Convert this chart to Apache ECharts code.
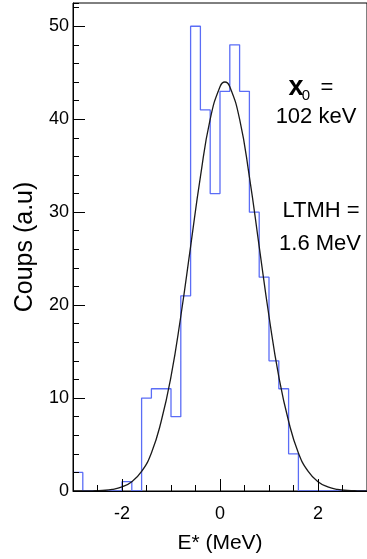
<!DOCTYPE html>
<html>
<head>
<meta charset="utf-8">
<script src="https://cdn.jsdelivr.net/npm/echarts@6/dist/echarts.min.js"></script>
<style>
    html, body { margin: 0; padding: 0; background: #fff; }
    #chart { width: 367px; height: 559px; }
</style>
</head>
<body>
<div id="chart"></div>
<script>
// histogram bins (MeV) and counts
const binEdges = [-3.0, -2.8, -2.6, -2.4, -2.2, -2.0, -1.8, -1.6, -1.4, -1.2, -1.0,
    -0.8, -0.6, -0.4, -0.2, 0.0, 0.2, 0.4, 0.6, 0.8, 1.0,
    1.2, 1.4, 1.6, 1.8, 2.0, 2.2, 2.4, 2.6, 2.8, 3.0]
const counts = [2, 0, 0, 0, 0, 1, 0, 10, 11, 11,
    8, 21, 50, 41, 32, 43, 48, 43, 30, 23,
    14, 11, 4, 0, 0, 0, 0, 0, 0, 0]

// fitted gaussian, points
const fitX = [-3.0, -2.8, -2.6, -2.4, -2.2, -2.0, -1.8, -1.6, -1.4, -1.2, -1.0,
    -0.8, -0.6, -0.4, -0.2, 0.0, 0.1, 0.2, 0.4, 0.6, 0.8, 1.0,
    1.2, 1.4, 1.6, 1.8, 2.0, 2.2, 2.4, 2.6, 2.8, 3.0]
const fitY = [0, 0.01, 0.02, 0.06, 0.17, 0.45, 1.0, 2.1, 4.1, 7.5, 12.3,
    18.8, 26.3, 33.8, 40.0, 43.5, 44.0, 43.5, 40.0, 33.8, 26.3, 18.8,
    12.3, 7.5, 4.1, 2.1, 1.0, 0.45, 0.17, 0.06, 0.02, 0.01]

const xLabels = [-2, 0, 2]
const yLabels = [0, 10, 20, 30, 40, 50]

const xTitle = 'E* (MeV)'
const yTitle = 'Coups (a.u)'
const notes = ['102 keV', 'LTMH =', '1.6 MeV']

const font = 'Liberation Sans'

const histData = binEdges.map((x, i) => [x, i < counts.length ? counts[i] : counts[counts.length - 1]])
const fitData = fitX.map((x, i) => [x, fitY[i]])

const chart = echarts.init(document.getElementById('chart'))

const noteText = (text, x, y, size) => ({
    type: 'text',
    x,
    y,
    style: {
        text,
        fill: '#000',
        font: `${ size }px "${ font }"`,
        textAlign: 'center',
        textVerticalAlign: 'middle'
    }
})

chart.setOption({
    animation: false,
    textStyle: { fontFamily: font },
    grid: {
        left: 73,
        right: -1,
        top: 3,
        bottom: 67,
        show: true,
        borderColor: '#000',
        borderWidth: 1
    },
    xAxis: [
        {
            type: 'value',
            min: -3,
            max: 3,
            interval: 0.5,
            position: 'bottom',
            z: 5,
            axisLine: { onZero: false, lineStyle: { color: '#000', width: 1 } },
            axisTick: { inside: true, length: 6, lineStyle: { color: '#000' } },
            axisLabel: {
                customValues: xLabels,
                color: '#000',
                fontSize: 18,
                margin: 14
            },
            splitLine: { show: false },
            name: xTitle,
            nameLocation: 'middle',
            nameGap: 42,
            nameTextStyle: { color: '#000', fontSize: 21 }
        },
        {
            type: 'value',
            min: -3,
            max: 3,
            interval: 1,
            position: 'bottom',
            z: 5,
            axisLine: { show: false, onZero: false },
            axisTick: { inside: true, length: 12, customValues: xLabels, lineStyle: { color: '#000' } },
            axisLabel: { show: false },
            splitLine: { show: false }
        }
    ],
    yAxis: [
        {
            type: 'value',
            min: 0,
            max: 52.5,
            interval: 2,
            position: 'left',
            z: 5,
            axisLine: { show: true, onZero: false, lineStyle: { color: '#000', width: 1 } },
            axisTick: { inside: true, length: 6, lineStyle: { color: '#000' } },
            axisLabel: { show: false },
            splitLine: { show: false }
        },
        {
            type: 'value',
            min: 0,
            max: 52.5,
            interval: 10,
            position: 'left',
            z: 5,
            axisLine: { show: false, onZero: false },
            axisTick: { inside: true, length: 12, customValues: yLabels, lineStyle: { color: '#000' } },
            axisLabel: {
                customValues: yLabels,
                color: '#000',
                fontSize: 18,
                margin: 4
            },
            splitLine: { show: false },
            name: yTitle,
            nameLocation: 'middle',
            nameGap: 31,
            nameTextStyle: { color: '#000', fontSize: 25 }
        }
    ],
    series: [
        {
            name: 'histo',
            type: 'line',
            step: 'end',
            data: histData,
            symbol: 'none',
            lineStyle: { color: '#5b6df6', width: 1.3 },
            z: 2
        },
        {
            name: 'fit',
            type: 'line',
            smooth: true,
            data: fitData,
            symbol: 'none',
            lineStyle: { color: '#1a1a1a', width: 1.3 },
            z: 3
        }
    ],
    graphic: [
        {
            type: 'text',
            x: 296,
            y: 88,
            style: {
                text: 'x',
                fill: '#000',
                font: `bold 27px "${ font }"`,
                textAlign: 'center',
                textVerticalAlign: 'middle'
            }
        },
        noteText('0', 306, 96, 15),
        noteText('=', 327, 88, 22),
        noteText(notes[0], 316, 117, 22),
        noteText(notes[1], 321, 211, 22),
        noteText(notes[2], 320, 244, 22)
    ]
})
</script>
</body>
</html>
